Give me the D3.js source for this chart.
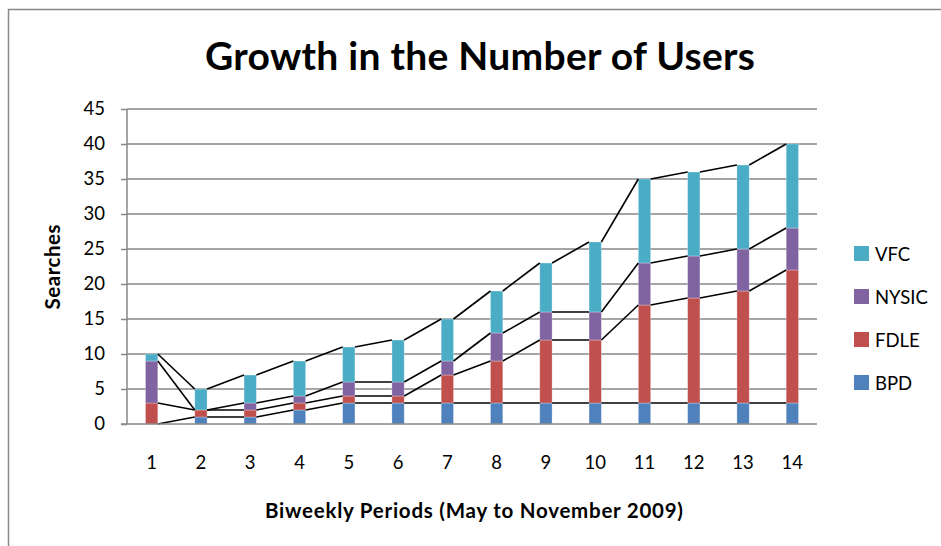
<!DOCTYPE html>
<html>
<head>
<meta charset="utf-8">
<script src="https://cdn.jsdelivr.net/npm/d3@7"></script>
<style>
  body { margin: 0; background: #fff; }
  text { font-family: Lato, "Open Sans", sans-serif; fill: #000; }
</style>
</head>
<body>
<svg id="chart" width="941" height="546"></svg>
<script>
// chart data
const periods = ["1","2","3","4","5","6","7","8","9","10","11","12","13","14"];
const seriesNames = ["BPD", "FDLE", "NYSIC", "VFC"];
const bpd   = [0, 1, 1, 2, 3, 3, 3, 3, 3, 3, 3, 3, 3, 3];
const fdle  = [3, 1, 1, 1, 1, 1, 4, 6, 9, 9, 14, 15, 16, 19];
const nysic = [6, 0, 1, 1, 2, 2, 2, 4, 4, 4, 6, 6, 6, 6];
const vfc   = [1, 3, 4, 5, 5, 6, 6, 6, 7, 10, 12, 12, 12, 12];
const yTicks = [0, 5, 10, 15, 20, 25, 30, 35, 40, 45];
const colors = ["#4F81BD", "#C0504D", "#8064A2", "#4BACC6"];

const rows = periods.map(function(p, i){
    return {period: p, BPD: bpd[i], FDLE: fdle[i], NYSIC: nysic[i], VFC: vfc[i]};
});

const svg = d3.select("#chart");
const plot = {left: 127, right: 817, top: 109, bottom: 424};

// outer chart border
svg.append("rect")
    .attr("x", 8.5).attr("y", 9.5)
    .attr("width", 960).attr("height", 560)
    .style("fill", "none")
    .style("stroke", "#888")
    .style("stroke-width", 1.5);

let x = d3.scaleBand()
    .domain(periods)
    .range([plot.left, plot.right])
    .paddingInner(0.75)
    .paddingOuter(0.375);

let y = d3.scaleLinear()
    .domain([0, 45])
    .range([plot.bottom, plot.top]);

let stack = d3.stack().keys(seriesNames)(rows);

// gridlines
svg.append("g").selectAll("line")
    .data(yTicks.slice(1))
    .enter().append("line")
    .attr("x1", plot.left).attr("x2", plot.right)
    .attr("y1", function(d){ return y(d); })
    .attr("y2", function(d){ return y(d); })
    .style("stroke", "#878787")
    .style("stroke-width", 1.5);

// bars
let layers = svg.append("g").selectAll("g")
    .data(stack)
    .enter().append("g")
    .style("fill", function(d, i){ return colors[i]; });

layers.selectAll("rect")
    .data(function(d){ return d.filter(function(s){ return s[1] > s[0]; }); })
    .enter().append("rect")
    .attr("x", function(d){ return x(d.data.period); })
    .attr("width", x.bandwidth())
    .attr("y", function(d){ return y(d[1]); })
    .attr("height", function(d){ return y(d[0]) - y(d[1]); })
    .style("stroke", "rgba(255,255,255,0.35)")
    .style("stroke-width", 0.8);

// series lines joining the tops of each layer
stack.forEach(function(layer){
    for(let i = 0; i < layer.length - 1; i++){
        svg.append("line")
            .attr("x1", x(layer[i].data.period) + x.bandwidth())
            .attr("y1", y(layer[i][1]))
            .attr("x2", x(layer[i + 1].data.period))
            .attr("y2", y(layer[i + 1][1]))
            .style("stroke", "#000")
            .style("stroke-width", 1.6);
    }
});

// axes
let yAxis = svg.append("g")
    .attr("transform", "translate(" + plot.left + ",0)")
    .call(d3.axisLeft(y).tickValues(yTicks).tickSize(6).tickPadding(16));
yAxis.select(".domain").style("stroke", "#878787").style("stroke-width", 1.5)
    .attr("d", "M0," + plot.bottom + "V" + plot.top);
yAxis.selectAll(".tick line").style("stroke", "#878787").style("stroke-width", 1.5);
yAxis.selectAll(".tick text")
    .style("font-size", "18.5px")
    .style("font-family", "Lato, sans-serif");

let xAxis = svg.append("g")
    .attr("transform", "translate(0," + plot.bottom + ")")
    .call(d3.axisBottom(x).tickSize(0).tickPadding(32));
xAxis.select(".domain").style("stroke", "#878787").style("stroke-width", 1.5)
    .attr("d", "M" + (plot.left - 6) + ",0H" + plot.right);
xAxis.selectAll(".tick text")
    .style("font-size", "18.5px")
    .style("font-family", "Lato, sans-serif");

// title and axis titles
svg.append("text")
    .attr("x", 480).attr("y", 70)
    .attr("text-anchor", "middle")
    .attr("textLength", 550)
    .style("font-size", "39px")
    .style("font-weight", "bold")
    .text("Growth in the Number of Users");

svg.append("text")
    .attr("x", 474).attr("y", 518)
    .attr("text-anchor", "middle")
    .attr("textLength", 418)
    .style("font-size", "20.5px")
    .style("font-weight", "bold")
    .text("Biweekly Periods (May to November 2009)");

svg.append("text")
    .attr("transform", "translate(60,267) rotate(-90)")
    .attr("text-anchor", "middle")
    .attr("textLength", 85)
    .style("font-size", "20.5px")
    .style("font-weight", "bold")
    .text("Searches");

// legend, top entry is the last series
let legend = svg.append("g").selectAll("g")
    .data(seriesNames.slice().reverse())
    .enter().append("g")
    .attr("transform", function(d, i){ return "translate(854," + (246 + i * 43) + ")"; });

legend.append("rect")
    .attr("width", 15).attr("height", 15)
    .style("fill", function(d){ return colors[seriesNames.indexOf(d)]; });

legend.append("text")
    .attr("x", 21).attr("y", 14.5)
    .style("font-size", "18.5px")
    .text(function(d){ return d; });
</script>
</body>
</html>
